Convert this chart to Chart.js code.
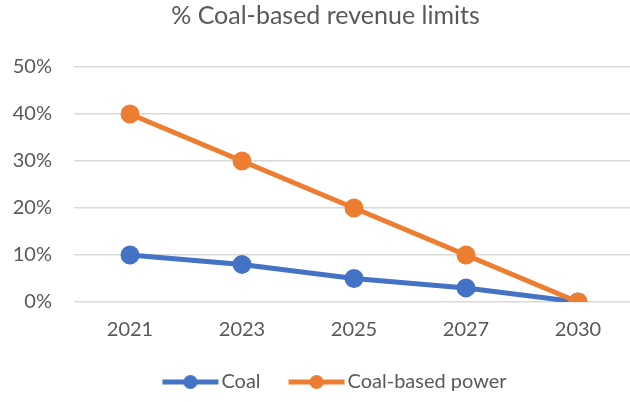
<!DOCTYPE html>
<html>
<head>
<meta charset="utf-8">
<script src="https://cdn.jsdelivr.net/npm/chart.js@4"></script>
<style>
  html, body { margin: 0; padding: 0; background: #fff; overflow: hidden; }
  #wrap { width: 646px; height: 402px; }
</style>
</head>
<body>
<div id="wrap"><canvas id="lineChart"></canvas></div>
<script>
// ========================== DATA ==============================
const years = ['2021', '2023', '2025', '2027', '2030'];
const coal = [10, 8, 5, 3, 0];
const coalPower = [40, 30, 20, 10, 0];
const yTicks = [0, 10, 20, 30, 40, 50];

const BLUE = '#4472C4';
const ORANGE = '#ED7D31';
const FONT = 'Lato, "Open Sans", sans-serif';

// legend marker: thick line with a dot in the middle (blank lead-in on the left for spacing)
function legendIcon(color) {
  const lead = 25;
  const c = document.createElement('canvas');
  c.width = lead + 58;
  c.height = 16;
  const ctx = c.getContext('2d');
  ctx.strokeStyle = color;
  ctx.lineWidth = 5;
  ctx.beginPath();
  ctx.moveTo(lead + 1, 8);
  ctx.lineTo(lead + 57, 8);
  ctx.stroke();
  ctx.fillStyle = color;
  ctx.beginPath();
  ctx.arc(lead + 29, 8, 7, 0, Math.PI * 2);
  ctx.fill();
  return c;
}

// ========================== CHART =============================
new Chart(document.getElementById('lineChart'), {
  type: 'line',
  data: {
    labels: years,
    datasets: [
      {
        label: 'Coal',
        data: coal,
        borderColor: BLUE,
        backgroundColor: BLUE,
        borderWidth: 5,
        pointStyle: 'circle',
        pointRadius: 7,
        pointHoverRadius: 7,
        tension: 0,
        order: 1
      },
      {
        label: 'Coal-based power',
        data: coalPower,
        borderColor: ORANGE,
        backgroundColor: ORANGE,
        borderWidth: 5,
        pointStyle: 'circle',
        pointRadius: 7,
        pointHoverRadius: 7,
        tension: 0,
        order: 0
      }
    ]
  },
  options: {
    responsive: true,
    maintainAspectRatio: false,
    animation: false,
    layout: { padding: { left: 8, right: 3, top: 1, bottom: 0 } },
    plugins: {
      title: {
        display: true,
        text: '% Coal-based revenue limits',
        color: '#595959',
        font: { family: FONT, size: 25, weight: 'normal' },
        padding: { top: 0, bottom: 36 }
      },
      legend: {
        position: 'bottom',
        labels: {
          usePointStyle: true,
          pointStyleWidth: 67,
          color: '#595959',
          font: { family: FONT, size: 20 },
          padding: 10,
          generateLabels(chart) {
            return chart.data.datasets.map((ds, i) => ({
              text: ds.label,
              pointStyle: legendIcon(ds.borderColor),
              fillStyle: ds.borderColor,
              strokeStyle: ds.borderColor,
              lineWidth: 0,
              fontColor: '#595959',
              datasetIndex: i,
              hidden: false
            }));
          }
        }
      },
      tooltip: { enabled: false }
    },
    scales: {
      x: {
        offset: true,
        grid: { display: false, drawTicks: false },
        border: { display: false },
        afterFit(scale) {
          scale.height = 60;
          scale.paddingLeft = 0;
          scale.paddingRight = 0;
        },
        ticks: {
          color: '#595959',
          font: { family: FONT, size: 20 },
          padding: 16
        }
      },
      y: {
        min: 0,
        max: 50,
        afterBuildTicks(scale) {
          scale.ticks = yTicks.map(v => ({ value: v }));
        },
        afterFit(scale) { scale.width = 66; },
        grid: { color: '#D9D9D9', lineWidth: 1.5, drawTicks: false },
        border: { display: false },
        ticks: {
          color: '#595959',
          font: { family: FONT, size: 20 },
          padding: 22,
          callback: v => v + '%'
        }
      }
    }
  }
});
</script>
</body>
</html>
